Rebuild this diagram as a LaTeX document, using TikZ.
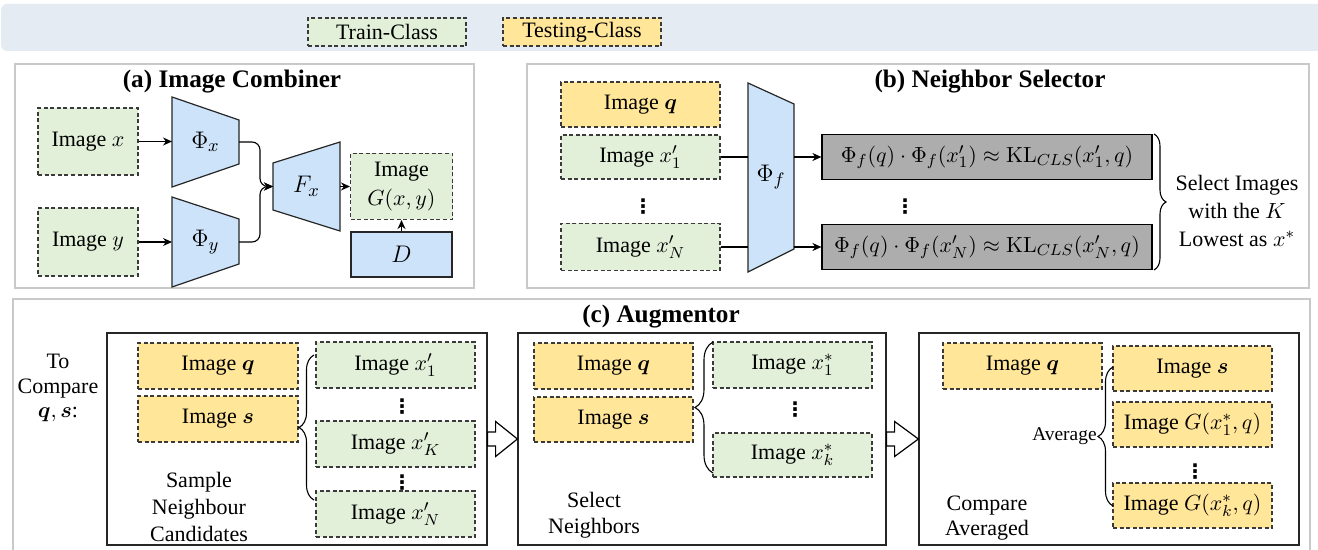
\documentclass[tikz,border=0pt]{standalone}
\usepackage[no-math]{fontspec}
\usepackage{bm}
\setmainfont{Liberation Serif}
\newfontfamily\djv{DejaVu Sans}
\usetikzlibrary{calc,decorations.pathreplacing,arrows.meta}
\definecolor{grn}{HTML}{E2F0D9}
\definecolor{ylw}{HTML}{FFE699}
\definecolor{blu}{HTML}{CCE3F9}
\definecolor{gry}{HTML}{ADADAD}
\definecolor{bnr}{HTML}{E4EBF3}
\definecolor{pnl}{HTML}{C9C9C9}
\definecolor{dsh}{HTML}{3A3A3A}
\newcommand{\vdt}{{\djv\bfseries ⋮}}
\tikzset{
 sz/.style 2 args={minimum width=#1*0.5pt, minimum height=#2*0.5pt},
 img/.style={draw=dsh, dash pattern=on 2pt off 1.3pt, line width=0.55pt, inner sep=0pt, font=\fontsize{11}{14.5}\selectfont},
 trn/.style={img, fill=grn},
 tst/.style={img, fill=ylw},
 enc/.style={draw=black!85, fill=blu, line width=0.6pt},
 enclab/.style={font=\fontsize{12.5}{15}\selectfont, inner sep=0pt},
 kl/.style={draw=black, fill=gry, line width=0.6pt, inner sep=0pt, font=\fontsize{11}{13.5}\selectfont},
 panel/.style={draw=pnl, line width=0.9pt},
 stage/.style={draw=black!85, line width=0.6pt, inner sep=0pt},
 ttl/.style={font=\fontsize{12.6}{15}\selectfont\bfseries, inner sep=0pt},
 lbl/.style={align=center, inner sep=0pt},
 arr/.style={-{Stealth[length=4.5pt,width=4pt]}, line width=0.55pt},
 ln/.style={line width=0.55pt},
 brc/.style={decorate, decoration={brace, amplitude=#1}, line width=0.55pt},
 blk/.style={draw=black, fill=white, line width=0.6pt, line join=miter},
 dts/.style={font=\fontsize{10}{12}\selectfont, inner sep=0pt},
}
\begin{document}
\begin{tikzpicture}[x=0.5pt,y=-0.5pt]
\useasboundingbox (0,0) rectangle (1318,550);
% legend banner
\fill[bnr, rounded corners=3pt] (1,4) rectangle (1330,51);
\node[trn, sz={158}{28}] (legtrn) at (387,32) {Train-Class};
\node[tst, sz={158}{28}] (legtst) at (582,32) {Testing-Class};

% ---------- (a) Image Combiner ----------
\draw[panel] (15,64) rectangle (474,288);
\node[ttl] (ta) at (232,82) {(a) Image Combiner};
\node[trn, sz={100}{67}] (imgx) at (88,141.5) {Image $x$};
\node[trn, sz={100}{68}] (imgy) at (88,242) {Image $y$};
\draw[enc] (172,97) -- (239,120) -- (239,164) -- (172,187) -- cycle;
\node[enclab] (phix) at (205.5,142) {$\Phi_x$};
\draw[enc] (172,197) -- (239,219) -- (239,264) -- (172,287) -- cycle;
\node[enclab] (phiy) at (205.5,242) {$\Phi_y$};
\draw[enc] (273,163) -- (340,142) -- (340,231) -- (273,210) -- cycle;
\node[enclab] (fx) at (306.5,186.5) {$F_x$};
\coordinate (phixin) at (172,141.5);
\coordinate (phixout) at (239,142);
\coordinate (phiyin) at (172,242);
\coordinate (phiyout) at (239,242);
\coordinate (fxin) at (273,186.5);
\coordinate (fxout) at (340,186.5);
\draw[arr] (imgx.east) -- (phixin);
\draw[arr] (imgy.east) -- (phiyin);
\draw[arr, rounded corners=4pt] (phixout) -- (260,142) -- (260,186.5) -- (fxin);
\draw[arr, rounded corners=4pt] (phiyout) -- (260,242) -- (260,186.5) -- (fxin);
\node[trn, sz={102}{66}, align=center] (gxy) at (401.5,186.5) {Image\\$G(x,y)$};
\draw[arr] (fxout) -- (gxy.west);
\node[enc, sz={101}{45}, inner sep=0pt, font=\fontsize{12.5}{15}\selectfont] (dd) at (401.5,254.5) {$D$};
\draw[arr] (dd.north) -- (gxy.south);

% ---------- (b) Neighbor Selector ----------
\draw[panel] (527,64) rectangle (1309,288);
\node[ttl] (tb) at (990,82) {(b) Neighbor Selector};
\node[tst, sz={159}{45}] (bq) at (640.5,104.5) {Image $\bm{q}$};
\node[trn, sz={159}{44}] (bx1) at (640.5,157) {Image $x'_1$};
\node[dts] (bd) at (643,207) {\vdt};
\node[trn, sz={159}{47}] (bxn) at (640.5,247) {Image $x'_N$};
\draw[enc] (748,83) -- (794,104) -- (794,249) -- (748,272) -- cycle;
\node[enclab] (phif) at (771,177) {$\Phi_f$};
\coordinate (phifin1) at (748,157);
\coordinate (phifout1) at (794,157);
\coordinate (phifin2) at (748,247);
\coordinate (phifout2) at (794,247);
\node[kl, sz={330}{45}] (k1) at (987,157) {$\Phi_f(q)\cdot\Phi_f(x'_1)\approx\mathrm{KL}_{CLS}(x'_1,q)$};
\node[kl, sz={330}{45}] (k2) at (987,247) {$\Phi_f(q)\cdot\Phi_f(x'_N)\approx\mathrm{KL}_{CLS}(x'_N,q)$};
\node[dts] (kd) at (905,207) {\vdt};
\draw[ln] (bx1.east) -- (phifin1);
\draw[ln] (bxn.east) -- (phifin2);
\draw[arr] (phifout1) -- (k1.west);
\draw[arr] (phifout2) -- (k2.west);
\coordinate (bb1) at (1154,134);
\coordinate (bb2) at (1154,270);
\draw[brc=6pt] (bb1) -- (bb2);
\node[lbl, font=\fontsize{11}{14}\selectfont] (sel) at (1237,211) {Select Images\\with the $K$\\Lowest as $x^*$};

% ---------- (c) Augmentor ----------
\draw[panel] (13,299) rectangle (1310,565);
\node[ttl] (tc) at (661,317) {(c) Augmentor};
\node[lbl, font=\fontsize{11}{12.3}\selectfont] (tocmp) at (58,388) {To\\Compare\\$\bm{q},\bm{s}$:};

% stage 1
\node[stage, sz={380}{212}] (c1) at (297,439) {};
\node[tst, sz={160}{46}] (c1q) at (218,366) {Image $\bm{q}$};
\node[tst, sz={160}{46}] (c1s) at (218,419) {Image $\bm{s}$};
\node[trn, sz={159}{46}] (c1x1) at (395.5,365) {Image $x'_1$};
\node[dts] (c1d1) at (402,407) {\vdt};
\node[trn, sz={159}{46}] (c1xk) at (395.5,444) {Image $x'_K$};
\node[dts] (c1d2) at (402,483) {\vdt};
\node[trn, sz={159}{46}] (c1xn) at (395.5,514) {Image $x'_N$};
\coordinate (c1b1) at (314,500);
\coordinate (c1b2) at (314,355);
\draw[brc=7.5pt] (c1b1) -- (c1b2);
\node[lbl, font=\fontsize{11}{13.5}\selectfont] (samp) at (199,507) {Sample\\Neighbour\\Candidates};

% stage 2
\node[stage, sz={368}{212}] (c2) at (702,439) {};
\node[tst, sz={159}{46}] (c2q) at (613.5,366) {Image $\bm{q}$};
\node[tst, sz={159}{45}] (c2s) at (613.5,419.5) {Image $\bm{s}$};
\node[trn, sz={159}{46}] (c2x1) at (792.5,365) {Image $x^*_1$};
\node[dts] (c2d) at (795,410) {\vdt};
\node[trn, sz={159}{44}] (c2xk) at (792.5,455) {Image $x^*_k$};
\coordinate (c2b1) at (713,473);
\coordinate (c2b2) at (713,342);
\draw[brc=9pt] (c2b1) -- (c2b2);
\node[lbl, font=\fontsize{11}{13}\selectfont] (seln) at (594,515) {Select\\Neighbors};

% stage 3
\node[stage, sz={380}{212}] (c3) at (1109,439) {};
\node[tst, sz={159}{46}] (c3q) at (1022.5,366) {Image $\bm{q}$};
\node[tst, sz={159}{45}] (c3s) at (1192.5,368.5) {Image $\bm{s}$};
\node[tst, sz={159}{45}] (c3g1) at (1192.5,424.5) {Image $G(x^*_1,q)$};
\node[dts] (c3d) at (1195,472) {\vdt};
\node[tst, sz={159}{45}] (c3gk) at (1192.5,505.5) {Image $G(x^*_k,q)$};
\coordinate (c3b1) at (1113,506);
\coordinate (c3b2) at (1113,367);
\draw[brc=7.5pt] (c3b1) -- (c3b2);
\node[anchor=east, inner sep=0pt, font=\fontsize{9.7}{11}\selectfont] (avg) at (1097,436) {Average};
\node[lbl, font=\fontsize{11}{12.5}\selectfont] (cmpa) at (987,518.5) {Compare\\Averaged};

% block arrows
\draw[blk] ($(c1.east)+(0,-7)$) -- ++(8,0) -- ++(0,-10.5) -- (c2.west) -- ($(c1.east)+(8,17.5)$) -- ++(0,-10.5) -- ($(c1.east)+(0,7)$) -- cycle;
\draw[blk] ($(c2.east)+(0,-7)$) -- ++(8,0) -- ++(0,-10.5) -- (c3.west) -- ($(c2.east)+(8,17.5)$) -- ++(0,-10.5) -- ($(c2.east)+(0,7)$) -- cycle;
\end{tikzpicture}
\end{document}
